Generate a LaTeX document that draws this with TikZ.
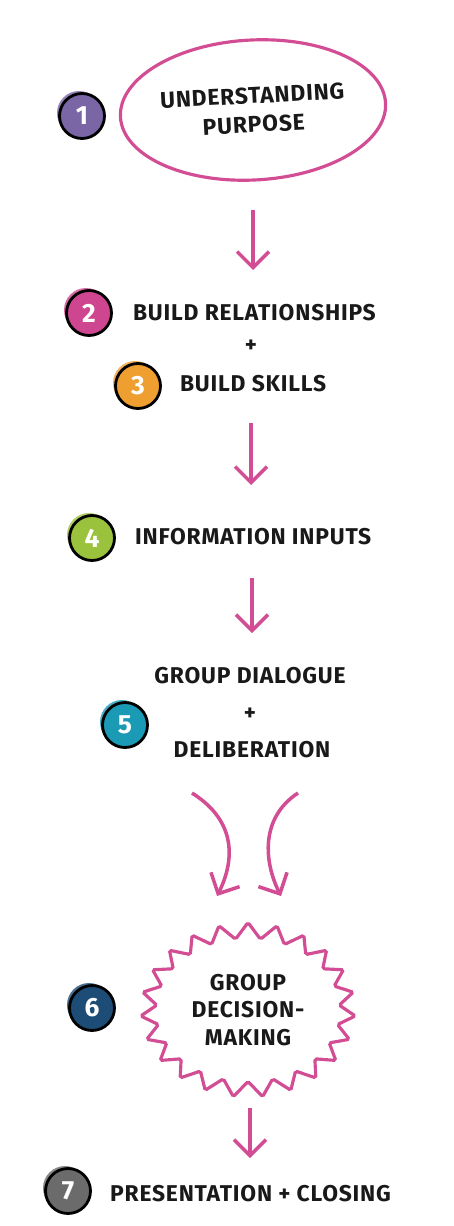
\documentclass[tikz,border=0pt]{standalone}
\usepackage{fontspec}
\setmainfont{Fira Sans}[LetterSpace=3.5]
\usetikzlibrary{arrows.meta,shapes.geometric,shapes.symbols}
\definecolor{linepink}{HTML}{D24D93}
\definecolor{cpurple}{HTML}{7A65A5}
\definecolor{cmagenta}{HTML}{CF4690}
\definecolor{corange}{HTML}{EE9F30}
\definecolor{cgreen}{HTML}{9BC23C}
\definecolor{cteal}{HTML}{1A9AB5}
\definecolor{cnavy}{HTML}{1D4C77}
\definecolor{cgray}{HTML}{6B6B6B}
\begin{document}
\begin{tikzpicture}[x=0.02cm, y=-0.02cm,
    every node/.style={font=\bfseries\fontsize{13}{16}\selectfont, text=black!90, inner sep=1pt},
    num/.style={circle, draw=black, line width=1.6pt, minimum size=0.9cm, text=white, font=\bfseries\fontsize{15}{15}\selectfont},
    flow/.style={draw=linepink, line width=2pt, -{Straight Barb[length=0.32cm 0 0, width=0.64cm 0 0]}}]
    \useasboundingbox (0,0) rectangle (453,1226);
    % numbered discs, with a sketchy smudge behind
    \foreach \n/\x/\y/\col in {1/82/116/cpurple, 2/89/313/cmagenta, 3/138/386/corange, 4/92/538/cgreen,
        5/125/725/cteal, 6/92/1008/cnavy, 7/68/1191/cgray} {
        \fill[\col!80] (\x-3,\y-3) circle (0.44cm);
        \node[num, fill=\col] (c\n) at (\x,\y) {\n};
    }
    % steps
    \node[ellipse, draw=linepink, line width=1.8pt, minimum width=4.85cm, minimum height=2.8cm,
        align=center, rotate=3, font=\bfseries\fontsize{13}{16.5}\selectfont] (purpose) at (253,110) {UNDERSTANDING\\PURPOSE};
    \node[anchor=west] (rel) at (131,313) {BUILD RELATIONSHIPS};
    \node (plus1) at (251,346) {+};
    \node[anchor=west] (skills) at (178,384) {BUILD SKILLS};
    \node[anchor=west] (info) at (133,537) {INFORMATION INPUTS};
    \node (dia) at (250,676) {GROUP DIALOGUE};
    \node (plus2) at (250,714) {+};
    \node (delib) at (252,750) {DELIBERATION};
    \node[starburst, draw=linepink, line width=1.8pt, rounded corners=1pt, starburst points=23,
        starburst point height=0.32cm, random starburst=0, minimum width=4.3cm, minimum height=3.5cm,
        align=center, font=\bfseries\fontsize{13}{15.5}\selectfont] (decide) at (248,1010) {GROUP\\DECISION-\\MAKING};
    \node[anchor=west] (closing) at (108,1194) {PRESENTATION + CLOSING};
    % straight arrows
    \foreach \i/\x/\ya/\yb in {1/253/210/270, 2/251/423/485, 3/252/578/633, 4/250/1108/1158} {
        \coordinate (s\i) at (\x,\ya);
        \coordinate (e\i) at (\x,\yb);
        \draw[flow] (s\i) -- (e\i);
    }
    % merging arrows
    \coordinate (ls) at (192,793);
    \coordinate (le) at (217,896);
    \coordinate (rs) at (298,793);
    \coordinate (re) at (281,896);
    \draw[flow] (ls) .. controls (238,822) and (234,862) .. (le);
    \draw[flow] (rs) .. controls (260,818) and (264,862) .. (re);
\end{tikzpicture}
\end{document}
